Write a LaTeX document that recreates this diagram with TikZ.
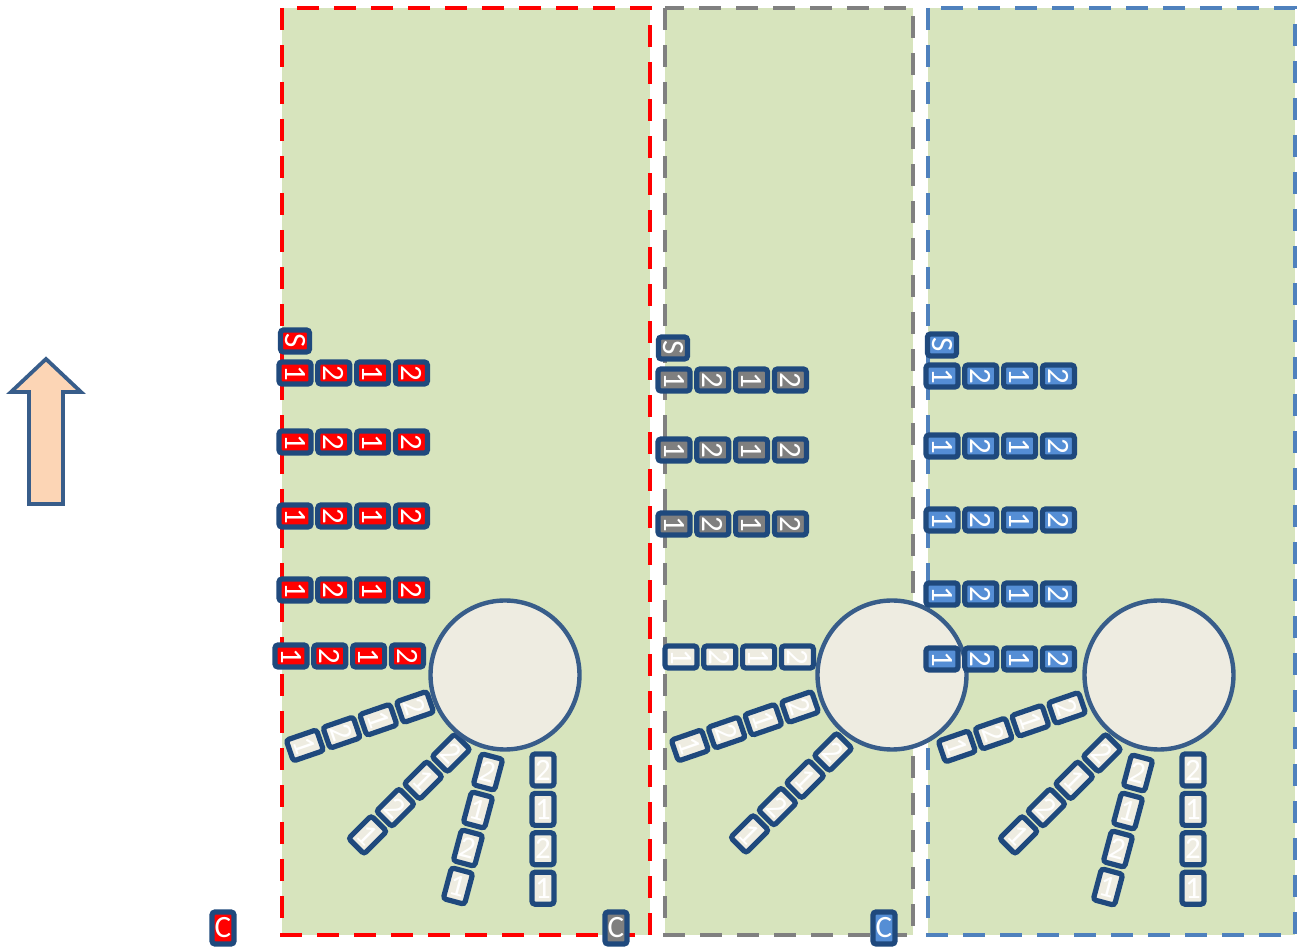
\documentclass[tikz,border=0pt]{standalone}
\usepackage{fontspec}
\newfontfamily\cellfont{Carlito}
\definecolor{panelgreen}{HTML}{D7E4BD}
\definecolor{boxblue}{HTML}{1F497D}
\definecolor{circblue}{HTML}{385D8A}
\definecolor{beige}{HTML}{EEECE1}
\definecolor{cellgray}{HTML}{7F7F7F}
\definecolor{cellblue}{HTML}{558ED5}
\definecolor{pgray}{HTML}{808080}
\definecolor{pblue}{HTML}{4F81BD}
\definecolor{arrowfill}{HTML}{FCD5B5}
\tikzset{
 cell/.style={draw=boxblue, line width=2.6pt, rounded corners=1.5pt, minimum width=11pt, minimum height=16pt, inner sep=0pt, text=white, font=\cellfont\fontsize{15.5}{15.5}\selectfont},
 circ/.style={circle, draw=circblue, fill=beige, line width=2.2pt, minimum size=74.5pt, inner sep=0pt},
 panel/.style={fill=panelgreen, line width=2.4pt, dash pattern=on 11pt off 7.5pt},
}
\newcommand\cellrow[4]{%
 \foreach \k/\t in {0/1,1/2,2/1,3/2}{\node[cell, fill=#4, rotate=-90] (#1-\k) at ({#2+\k*38.8},#3) {\t};}}
\newcommand\spoke[6]{% name, x, y, dx, dy, angle
 \foreach \k/\t in {0/2,1/1,2/2,3/1}{\node[cell, fill=beige, rotate=#6] (#1-\k) at ({#2+\k*(#4)},{#3+\k*(#5)}) {\t};}}
\begin{document}
\begin{tikzpicture}[x=0.5pt,y=-0.5pt]
\useasboundingbox (0,0) rectangle (1298,951);
% panels
\draw[panel, draw=red] (282,8) rectangle (650,935);
\draw[panel, draw=pgray] (665,8) rectangle (913,935);
\draw[panel, draw=pblue] (928,8) rectangle (1295,935);
% arrow
\draw[line width=1.9pt, draw=circblue, fill=arrowfill, line join=miter] (46,359) -- (81,392) -- (63,392) -- (63,504) -- (29,504) -- (29,392) -- (11,392) -- cycle;
% red panel
\spoke{rA}{415}{707}{-36.7}{12.8}{-71}
\spoke{rB}{451}{753}{-27.8}{27.3}{-45}
\spoke{rC}{488}{772}{-10}{38}{-15}
\spoke{rD}{543}{770}{0}{39.4}{0}
\node[circ] (c1) at (505,675) {};
\node[cell, fill=red, rotate=-90, minimum height=14.5pt] (sR) at (295,341) {S};
\cellrow{r1}{295}{373}{red}
\cellrow{r2}{295}{442}{red}
\cellrow{r3}{295}{516}{red}
\cellrow{r4}{295}{590}{red}
\cellrow{r5}{291}{656}{red}
% gray panel
\spoke{gA}{800}{707}{-36.7}{12.8}{-71}
\spoke{gB}{833}{752}{-27.8}{27.3}{-45}
\node[circ] (c2) at (892,675) {};
\node[cell, fill=cellgray, rotate=-90, minimum height=14.5pt] (sG) at (673,348) {S};
\cellrow{g1}{674}{380}{cellgray}
\cellrow{g2}{674}{450}{cellgray}
\cellrow{g3}{674}{524}{cellgray}
\cellrow{g4}{681}{657}{beige}
% blue panel
\spoke{bA}{1067}{708}{-36.7}{12.8}{-71}
\spoke{bB}{1102}{753}{-27.8}{27.3}{-45}
\spoke{bC}{1138}{773}{-10}{38}{-15}
\spoke{bD}{1193}{770}{0}{39.4}{0}
\node[circ] (c3) at (1159,675) {};
\node[cell, fill=cellblue, rotate=-90, minimum height=14.5pt] (sB) at (942,345) {S};
\cellrow{b1}{942}{376}{cellblue}
\cellrow{b2}{942}{446}{cellblue}
\cellrow{b3}{942}{520}{cellblue}
\cellrow{b4}{942}{594}{cellblue}
\cellrow{b5}{942}{659}{cellblue}
% C boxes
\node[cell, fill=red] (cR) at (223,928) {C};
\node[cell, fill=cellgray] (cG) at (616,928) {C};
\node[cell, fill=cellblue] (cB) at (884,928) {C};
\end{tikzpicture}
\end{document}
